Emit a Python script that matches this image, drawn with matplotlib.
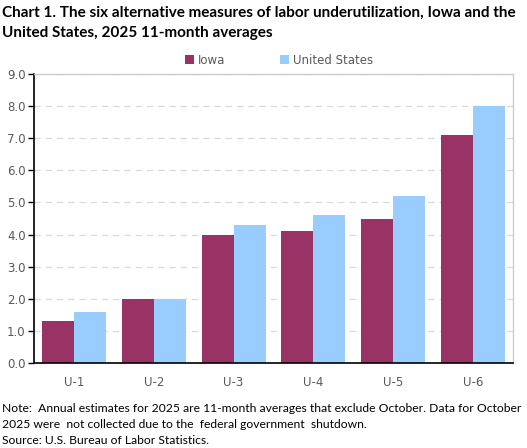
import matplotlib
matplotlib.use("Agg")
import matplotlib.pyplot as plt
import numpy as np

categories = ["U-1", "U-2", "U-3", "U-4", "U-5", "U-6"]
iowa = [1.3, 2.0, 4.0, 4.1, 4.5, 7.1]
us = [1.6, 2.0, 4.3, 4.6, 5.2, 8.0]
series_names = ["Iowa", "United States"]
yticks = [0.0, 1.0, 2.0, 3.0, 4.0, 5.0, 6.0, 7.0, 8.0, 9.0]

W, H = 527, 448
fig = plt.figure(figsize=(W / 100, H / 100), dpi=100)
ax = fig.add_axes([34 / W, 1 - 363 / H, (513 - 34) / W, (363 - 74) / H])

x = np.arange(len(categories))
bw = 0.4
ax.bar(x - bw / 2, iowa, bw, color="#993366", label=series_names[0], zorder=3)
ax.bar(x + bw / 2, us, bw, color="#99CCFF", label=series_names[1], zorder=3)

ax.set_xlim(-0.5, len(categories) - 0.5)
ax.set_ylim(0, 9)
ax.set_yticks(yticks)
ax.set_yticklabels([f"{v:.1f}" for v in yticks], fontsize=8.5, color="#595959",
                   family="DejaVu Sans")
ax.set_xticks(x)
ax.set_xticklabels(categories, fontsize=8.5, color="#595959", family="DejaVu Sans")
ax.tick_params(axis="y", length=4, width=1, color="black", pad=2)
ax.tick_params(axis="x", length=0, pad=9)
ax.yaxis.grid(True, linestyle=(0, (5, 4)), color="#D9D9D9", linewidth=0.9, zorder=0)
for s in ["top", "right"]:
    ax.spines[s].set_color("#CCCCCC")
    ax.spines[s].set_linewidth(1)
for s in ["left", "bottom"]:
    ax.spines[s].set_color("black")
    ax.spines[s].set_linewidth(1.2)
ax.spines["bottom"].set_zorder(4)

fig.legend(loc="center", bbox_to_anchor=(279 / W, 1 - 60 / H), ncol=2, frameon=False,
           prop={"family": "DejaVu Sans", "size": 8.5}, labelcolor="#595959",
           handlelength=0.75, handleheight=0.75, handletextpad=0.35, columnspacing=4.6)

fig.text(2 / W, 1 - 13 / H,
         "Chart 1. The six alternative measures of labor underutilization, Iowa and the",
         fontsize=11, fontweight="bold", family="Lato", va="center", ha="left")
fig.text(2 / W, 1 - 33 / H, "United States, 2025 11-month averages",
         fontsize=11, fontweight="bold", family="Lato", va="center", ha="left")

notes = ["Note:  Annual estimates for 2025 are 11-month averages that exclude October. Data for October",
         "2025 were  not collected due to the  federal government  shutdown.",
         "Source: U.S. Bureau of Labor Statistics."]
for i, t in enumerate(notes):
    fig.text(2 / W, 1 - (408 + i * 16) / H, t, fontsize=8.7, family="Lato",
             va="center", ha="left")

fig.savefig("out.png", dpi=100)
